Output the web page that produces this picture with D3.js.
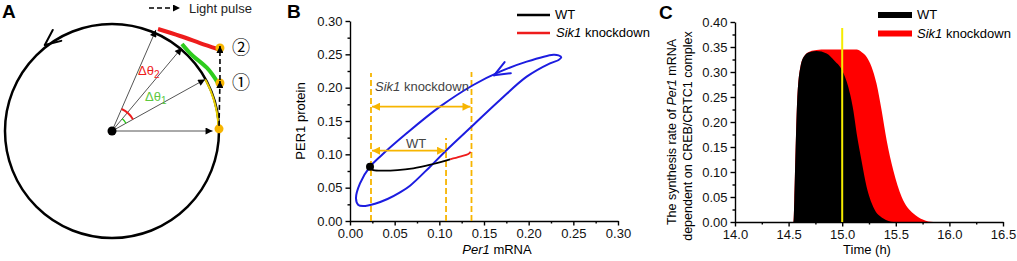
<!DOCTYPE html>
<meta charset="utf-8">
<style>
    body { margin: 0; background: #fff; overflow: hidden; }
    svg { font-family: "Liberation Sans", Arial, sans-serif; }
    .axis path, .axis line { stroke: #000; stroke-width: 1.4; }
    .axis text { font-size: 13px; fill: #111; font-family: "Liberation Sans", Arial, sans-serif; }
</style>
<svg id="canvas" width="1017" height="261"></svg>
<script src="https://d3js.org/d3.v7.min.js"></script>
<script>

    // ---------- panel A (unit circle = limit cycle) ----------
    var radialAngles = [0, 29, 50, 66.5];          // degrees
    var radialLengths = [0.94, 0.995, 1.015, 1.03];
    var pulseDots = [[1.0, 0.02], [1.009, 0.449], [1.009, 0.776]];
    var greenShift = [[0.99, 0.449], [0.888, 0.589], [0.757, 0.701], [0.654, 0.813]];
    var redShift = [[0.99, 0.766], [0.822, 0.822], [0.636, 0.888], [0.43, 0.953]];
    var yellowArc = [0, 29];
    var dTheta1 = [29, 50], dTheta2 = [29, 66.5];

    // ---------- panel B ----------
    var bTicks = [0, 0.05, 0.1, 0.15, 0.2, 0.25, 0.3];
    var limitCycle = [
        [.2276, .2495], [.2335, .2485], [.2365, .2455], [.2335, .2415],
        [.2239, .2365], [.1978, .2165], [.1679, .1815], [.138, .144], [.1082, .1065], [.0896, .0815],
        [.0672, .053], [.056, .043], [.042, .033], [.028, .026], [.0149, .0225],
        [.0093, .024], [.0067, .034], [.0112, .0565], [.0224, .0815], [.0336, .0965], [.0634, .1315],
        [.1007, .1715], [.138, .204], [.1679, .224], [.1978, .239]
    ];
    var wtPath = [[.0224, .0815], [.025, .077], [.0336, .0755], [.0709, .079], [.0933, .0855], [.112, .0925]];
    var sikPath = [[.112, .0925], [.1231, .0965], [.1325, .1005], [.135, .104]];
    var startPoint = [.0224, .0815];
    var guideX = [0.0235, 0.1075, 0.136];
    var guideTop = [0.222, 0.1245, 0.2235];
    var sikSpan = [0.0235, 0.136, 0.1715];
    var wtSpan = [0.0235, 0.1075, 0.1055];

    // ---------- panel C ----------
    var cxTicks = [14.0, 14.5, 15.0, 15.5, 16.0, 16.5];
    var cyTicks = [0, 0.05, 0.1, 0.15, 0.2, 0.25, 0.3, 0.35, 0.4];
    var wtTime = [14.0, 14.545, 14.553, 14.565, 14.58, 14.61, 14.65, 14.7, 14.76, 14.855, 14.93, 15.0, 15.057, 15.104, 15.135, 15.18, 15.228, 15.29, 15.384, 15.48, 16.5];
    var wtRate = [0, 0, 0.043, 0.143, 0.243, 0.31, 0.333, 0.34, 0.342, 0.337, 0.322, 0.303, 0.27, 0.223, 0.177, 0.123, 0.07, 0.03, 0.007, 0, 0];
    var sikTime = [14.0, 14.545, 14.553, 14.565, 14.58, 14.61, 14.65, 14.7, 14.76, 14.85, 15.0, 15.135, 15.18, 15.228, 15.32, 15.368, 15.415, 15.477, 15.555, 15.664, 15.85, 16.5];
    var sikRate = [0, 0, 0.043, 0.143, 0.243, 0.31, 0.333, 0.341, 0.344, 0.345, 0.345, 0.345, 0.34, 0.33, 0.277, 0.223, 0.163, 0.103, 0.05, 0.017, 0, 0];
    var pulseTime = 15.0;

    var ORANGE = "#f7b500", BLUE = "#1c1ce0", RED = "#ee1c1c", GREEN = "#2ecc1e";

    var svg = d3.select("#canvas");
    var defs = svg.append("defs");

    function marker(id, color, w, h) {
        defs.append("marker").attr("id", id)
            .attr("viewBox", "0 0 10 10").attr("refX", 10).attr("refY", 5)
            .attr("markerUnits", "userSpaceOnUse")
            .attr("markerWidth", w).attr("markerHeight", h)
            .attr("orient", "auto-start-reverse")
            .append("path").attr("d", "M0,0L10,5L0,10Z").attr("fill", color);
    }
    marker("blk", "#000", 9, 7);
    marker("org", ORANGE, 9, 8);

    function chevron(g, x, y, dx, dy, len, half, color) {
        var a = Math.atan2(dy, dx);
        [half, -half].forEach(function(h) {
            var b = a + Math.PI + h * Math.PI / 180;
            g.append("line").attr("x1", x).attr("y1", y)
                .attr("x2", x + len * Math.cos(b)).attr("y2", y + len * Math.sin(b))
                .attr("stroke", color).attr("stroke-width", 2).attr("stroke-linecap", "round");
        });
    }

    function panelLabel(t, x, y) {
        svg.append("text").attr("x", x).attr("y", y).attr("font-size", "19px")
            .attr("font-weight", "bold").text(t);
    }

    // =================== A ===================
    var R = 107;
    var ax = d3.scaleLinear().domain([-1, 1]).range([112 - R, 112 + R]);
    var ay = d3.scaleLinear().domain([-1, 1]).range([131 + R, 131 - R]);
    var polar = function(deg, r) {
        var t = deg * Math.PI / 180;
        return [ax(r * Math.cos(t)), ay(r * Math.sin(t))];
    };
    var gA = svg.append("g");

    gA.append("circle").attr("cx", ax(0)).attr("cy", ay(0)).attr("r", ax(1) - ax(0))
        .attr("fill", "none").attr("stroke", "#000").attr("stroke-width", 2.5);

    var t0 = polar(128, 1.02);
    chevron(gA, t0[0], t0[1], -0.79, 0.62, 17, 24, "#000");

    var arcLine = d3.line().curve(d3.curveNatural);
    gA.append("path")
        .attr("d", arcLine(d3.range(yellowArc[0], yellowArc[1] + 1, 1).map(function(d) { return polar(d, 0.995); })))
        .attr("fill", "none").attr("stroke", "#e8cf00").attr("stroke-width", 2);

    radialAngles.forEach(function(a, i) {
        var p = polar(a, radialLengths[i]);
        gA.append("line").attr("x1", ax(0)).attr("y1", ay(0)).attr("x2", p[0]).attr("y2", p[1])
            .attr("stroke", "#555").attr("stroke-width", 1).attr("marker-end", "url(#blk)");
    });

    gA.append("path")
        .attr("d", arcLine(greenShift.map(function(d) { return [ax(d[0]), ay(d[1])]; })))
        .attr("fill", "none").attr("stroke", GREEN).attr("stroke-width", 4);
    gA.append("path")
        .attr("d", arcLine(redShift.map(function(d) { return [ax(d[0]), ay(d[1])]; })))
        .attr("fill", "none").attr("stroke", RED).attr("stroke-width", 4);

    var arcGen = d3.arc();
    gA.append("path").attr("transform", "translate(" + ax(0) + "," + ay(0) + ")")
        .attr("d", arcGen({innerRadius: 24, outerRadius: 24,
            startAngle: (90 - dTheta2[1]) * Math.PI / 180, endAngle: (90 - dTheta2[0]) * Math.PI / 180}))
        .attr("fill", "none").attr("stroke", RED).attr("stroke-width", 2);
    gA.append("path").attr("transform", "translate(" + ax(0) + "," + ay(0) + ")")
        .attr("d", arcGen({innerRadius: 16, outerRadius: 16,
            startAngle: (90 - dTheta1[1]) * Math.PI / 180, endAngle: (90 - dTheta1[0]) * Math.PI / 180}))
        .attr("fill", "none").attr("stroke", GREEN).attr("stroke-width", 1.5);

    // light pulse
    gA.selectAll(".pdot").data(pulseDots).enter().append("circle")
        .attr("cx", function(d) { return ax(d[0]); }).attr("cy", function(d) { return ay(d[1]); })
        .attr("r", 4.5).attr("fill", ORANGE);
    for (var i = 0; i < pulseDots.length - 1; i++) {
        gA.append("line")
            .attr("x1", ax(pulseDots[i][0])).attr("y1", ay(pulseDots[i][1]) - 3)
            .attr("x2", ax(pulseDots[i + 1][0])).attr("y2", ay(pulseDots[i + 1][1]) - 2)
            .attr("stroke", "#000").attr("stroke-width", 1.6).attr("stroke-dasharray", "5,3")
            .attr("marker-end", "url(#blk)");
    }
    gA.append("circle").attr("cx", ax(0)).attr("cy", ay(0)).attr("r", 4.5).attr("fill", "#000");

    ["\u2461", "\u2460"].forEach(function(s, i) {
        var d = pulseDots[2 - i];
        gA.append("text").attr("x", ax(d[0]) + 21).attr("y", ay(d[1]) + 6)
            .attr("text-anchor", "middle").attr("font-size", "18px")
            .attr("font-family", "'Noto Sans CJK SC', 'DejaVu Sans', sans-serif").text(s);
    });

    var d2 = gA.append("text").attr("x", 138).attr("y", 75).attr("fill", RED).attr("font-size", "13px");
    d2.append("tspan").text("\u0394\u03b8");
    d2.append("tspan").attr("font-size", "10px").attr("dy", 3).text("2");
    var d1 = gA.append("text").attr("x", 145).attr("y", 101).attr("fill", "#5cc840").attr("font-size", "13px");
    d1.append("tspan").text("\u0394\u03b8");
    d1.append("tspan").attr("font-size", "10px").attr("dy", 3).text("1");

    gA.append("line").attr("x1", 149).attr("y1", 8).attr("x2", 180).attr("y2", 8)
        .attr("stroke", "#000").attr("stroke-width", 1.6).attr("stroke-dasharray", "5,3")
        .attr("marker-end", "url(#blk)");
    gA.append("text").attr("x", 189).attr("y", 13).attr("font-size", "13px").attr("fill", "#222").text("Light pulse");

    panelLabel("A", 2, 18);

    // =================== B ===================
    var bx = d3.scaleLinear().domain([0, 0.3]).range([350, 618]);
    var by = d3.scaleLinear().domain([0, 0.3]).range([221, 21]);
    var gB = svg.append("g");

    function midTicks(t) {
        return t.slice(1).map(function(v, i) { return (v + t[i]) / 2; });
    }
    function axes(g, x, y, xt, yt, xf, yf) {
        var y0 = y.range()[0], x0 = x.range()[0];
        g.append("g").attr("class", "axis").attr("transform", "translate(0," + y0 + ")")
            .call(d3.axisBottom(x).tickValues(midTicks(xt)).tickSize(2.5).tickFormat("").tickSizeOuter(0))
            .select(".domain").remove();
        g.append("g").attr("class", "axis").attr("transform", "translate(" + x0 + ",0)")
            .call(d3.axisLeft(y).tickValues(midTicks(yt)).tickSize(2.5).tickFormat("").tickSizeOuter(0))
            .select(".domain").remove();
        g.append("g").attr("class", "axis").attr("transform", "translate(0," + y0 + ")")
            .call(d3.axisBottom(x).tickValues(xt).tickSize(4.5).tickPadding(3.5).tickFormat(d3.format(xf)).tickSizeOuter(0));
        g.append("g").attr("class", "axis").attr("transform", "translate(" + x0 + ",0)")
            .call(d3.axisLeft(y).tickValues(yt).tickSize(4.5).tickPadding(3).tickFormat(d3.format(yf)).tickSizeOuter(0));
    }
    axes(gB, bx, by, bTicks, bTicks, ".2f", ".2f");

    var bLine = d3.line().x(function(d) { return bx(d[0]); }).y(function(d) { return by(d[1]); });

    guideX.forEach(function(v, i) {
        gB.append("line").attr("x1", bx(v)).attr("x2", bx(v)).attr("y1", by(0)).attr("y2", by(guideTop[i]))
            .attr("stroke", ORANGE).attr("stroke-width", 1.8).attr("stroke-dasharray", "6,3");
    });

    gB.append("path").attr("d", bLine.curve(d3.curveCatmullRomClosed)(limitCycle))
        .attr("fill", "none").attr("stroke", BLUE).attr("stroke-width", 2);
    chevron(gB, bx(0.1612), by(0.2185), -0.87, 0.49, 17, 22, BLUE);

    [sikSpan, wtSpan].forEach(function(s) {
        gB.append("line").attr("x1", bx(s[0]) + 1).attr("x2", bx(s[1]) - 1).attr("y1", by(s[2])).attr("y2", by(s[2]))
            .attr("stroke", ORANGE).attr("stroke-width", 1.8)
            .attr("marker-start", "url(#org)").attr("marker-end", "url(#org)");
    });

    gB.append("path").attr("d", bLine.curve(d3.curveCatmullRom)(wtPath))
        .attr("fill", "none").attr("stroke", "#000").attr("stroke-width", 1.8);
    gB.append("path").attr("d", bLine.curve(d3.curveCatmullRom)(sikPath))
        .attr("fill", "none").attr("stroke", RED).attr("stroke-width", 1.8);
    gB.append("circle").attr("cx", bx(startPoint[0])).attr("cy", by(startPoint[1])).attr("r", 4).attr("fill", "#000");

    var sk = gB.append("text").attr("x", 375).attr("y", 91).attr("font-size", "13px").attr("fill", "#444");
    sk.append("tspan").attr("font-style", "italic").text("Sik1");
    sk.append("tspan").text(" knockdown");
    gB.append("text").attr("x", 416).attr("y", 148).attr("text-anchor", "middle")
        .attr("font-size", "13px").attr("fill", "#444").text("WT");

    // legend B
    gB.append("line").attr("x1", 517).attr("x2", 550).attr("y1", 15).attr("y2", 15).attr("stroke", "#000").attr("stroke-width", 2.5);
    gB.append("text").attr("x", 555).attr("y", 18.5).attr("font-size", "13px").text("WT");
    gB.append("line").attr("x1", 517).attr("x2", 550).attr("y1", 33).attr("y2", 33).attr("stroke", RED).attr("stroke-width", 2.5);
    var lb = gB.append("text").attr("x", 556).attr("y", 37).attr("font-size", "13px");
    lb.append("tspan").attr("font-style", "italic").text("Sik1");
    lb.append("tspan").text(" knockdown");

    gB.append("text").attr("transform", "translate(305,121) rotate(-90)").attr("text-anchor", "middle")
        .attr("font-size", "13px").text("PER1 protein");
    var bxl = gB.append("text").attr("x", 497).attr("y", 254).attr("text-anchor", "middle").attr("font-size", "13px");
    bxl.append("tspan").attr("font-style", "italic").text("Per1");
    bxl.append("tspan").text(" mRNA");

    panelLabel("B", 287, 18);

    // =================== C ===================
    var cx = d3.scaleLinear().domain([14, 16.5]).range([735, 1003]);
    var cy = d3.scaleLinear().domain([0, 0.4]).range([222, 22]);
    var gC = svg.append("g");

    var area = d3.area().curve(d3.curveMonotoneX)
        .x(function(d) { return cx(d[0]); }).y0(cy(0)).y1(function(d) { return cy(d[1]); });
    gC.append("path").attr("d", area(d3.zip(sikTime, sikRate))).attr("fill", "#ff0000");
    gC.append("path").attr("d", area(d3.zip(wtTime, wtRate))).attr("fill", "#000");

    axes(gC, cx, cy, cxTicks, cyTicks, ".1f", ".2f");

    gC.append("line").attr("x1", cx(pulseTime)).attr("x2", cx(pulseTime)).attr("y1", cy(0)).attr("y2", 28)
        .attr("stroke", "#f5ec00").attr("stroke-width", 2);

    gC.append("line").attr("x1", 878).attr("x2", 912).attr("y1", 15).attr("y2", 15).attr("stroke", "#000").attr("stroke-width", 6);
    gC.append("text").attr("x", 917).attr("y", 19).attr("font-size", "13px").text("WT");
    gC.append("line").attr("x1", 878).attr("x2", 912).attr("y1", 33.5).attr("y2", 33.5).attr("stroke", "#ff0000").attr("stroke-width", 6);
    var lc = gC.append("text").attr("x", 917).attr("y", 38).attr("font-size", "13px");
    lc.append("tspan").attr("font-style", "italic").text("Sik1");
    lc.append("tspan").text(" knockdown");

    var cyl = gC.append("text").attr("transform", "translate(676,132) rotate(-90)").attr("text-anchor", "middle")
        .attr("font-size", "12.5px");
    cyl.append("tspan").text("The synthesis rate of ");
    cyl.append("tspan").attr("font-style", "italic").text("Per1");
    cyl.append("tspan").text(" mRNA");
    gC.append("text").attr("transform", "translate(692,136) rotate(-90)").attr("text-anchor", "middle")
        .attr("font-size", "12.5px").text("dependent on CREB/CRTC1 complex");
    gC.append("text").attr("x", 867).attr("y", 254).attr("text-anchor", "middle").attr("font-size", "13px").text("Time (h)");

    panelLabel("C", 659, 19);

</script>
